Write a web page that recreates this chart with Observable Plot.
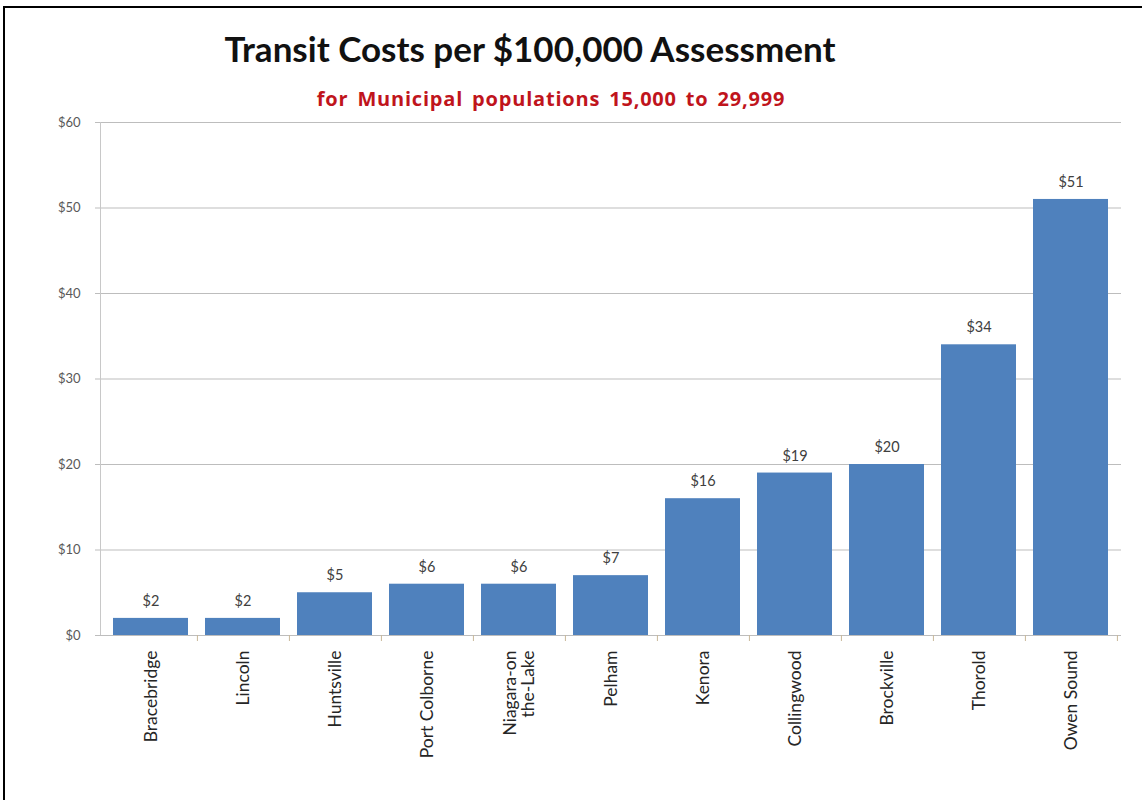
<!DOCTYPE html>
<html>
<head>
<meta charset="utf-8">
<script src="https://cdn.jsdelivr.net/npm/d3@7"></script>
<script src="https://cdn.jsdelivr.net/npm/@observablehq/plot@0.6"></script>
<style>
  html, body { margin: 0; padding: 0; background: #fff; }
  #wrap { position: relative; width: 1142px; height: 800px; overflow: hidden; font-family: Lato, "Open Sans", sans-serif; }
  #border { position: absolute; left: 3px; top: 6px; right: -10px; bottom: -10px; border-top: 2px solid #000; border-left: 2px solid #000; }
  #title { position: absolute; left: 0; width: 1060px; top: 27px; text-align: center; font-size: 35px; font-weight: bold; color: #111; }
  #subtitle { position: absolute; left: 0; width: 1102px; top: 85px; text-align: center; font-family: "Open Sans", sans-serif; font-size: 20px; font-weight: bold; color: #c0141c; letter-spacing: 0.8px; word-spacing: 3px; }
  #chart { position: absolute; left: 0; top: 0; }
</style>
</head>
<body>
<div id="wrap">
  <div id="border"></div>
  <div id="chart"></div>
  <div id="title">Transit Costs per $100,000 Assessment</div>
  <div id="subtitle">for Municipal populations 15,000 to 29,999</div>
</div>
<script>
const municipalities = ["Bracebridge", "Lincoln", "Huntsville", "Port Colborne", "Niagara-on\nthe-Lake", "Pelham", "Kenora", "Collingwood", "Brockville", "Thorold", "Owen Sound"];
const costs = [2, 2, 5, 6, 6, 7, 16, 19, 20, 34, 51];
const yTicks = [0, 10, 20, 30, 40, 50, 60];

const data = municipalities.map((m, i) => ({name: m, value: costs[i]}));

const W = 1142, H = 800, ML = 100, MR = 21;
const half = (W - ML - MR) / municipalities.length / 2;

const chart = Plot.plot({
  width: W,
  height: H,
  marginLeft: ML,
  marginRight: MR,
  marginTop: 122,
  marginBottom: 165,
  style: {fontFamily: "Lato, 'Open Sans', sans-serif", background: "transparent"},
  x: {domain: municipalities, paddingInner: 0.18, paddingOuter: 0.09, label: null},
  y: {domain: [0, 60], label: null},
  marks: [
    Plot.gridY(yTicks, {stroke: "#bdbdbd", strokeOpacity: 1, strokeWidth: 1}),
    Plot.frame({anchor: "left", stroke: "#c8c8c8"}),
    Plot.axisY(yTicks, {tickFormat: d => "$" + d, tickSize: 5, tickPadding: 15, stroke: "#bdbdbd", fill: "#595959", fontSize: 13, label: null}),
    Plot.barY(data, {x: "name", y: "value", fill: "#4f81bd"}),
    Plot.ruleY([0], {stroke: "#bdbdbd"}),
    Plot.axisX({ticks: municipalities, tickSize: 6, text: null, dx: half, stroke: "#c8b89a"}),
    Plot.axisX({tickSize: 0, tickRotate: -90, tickPadding: 15, fontSize: 17.5, fill: "#262626", label: null, lineHeight: 1.05}),
    Plot.text(data, {x: "name", y: "value", text: d => "$" + d.value, dy: -17, fontSize: 14.5, fill: "#404040"})
  ]
});
document.getElementById("chart").appendChild(chart);
</script>
</body>
</html>
